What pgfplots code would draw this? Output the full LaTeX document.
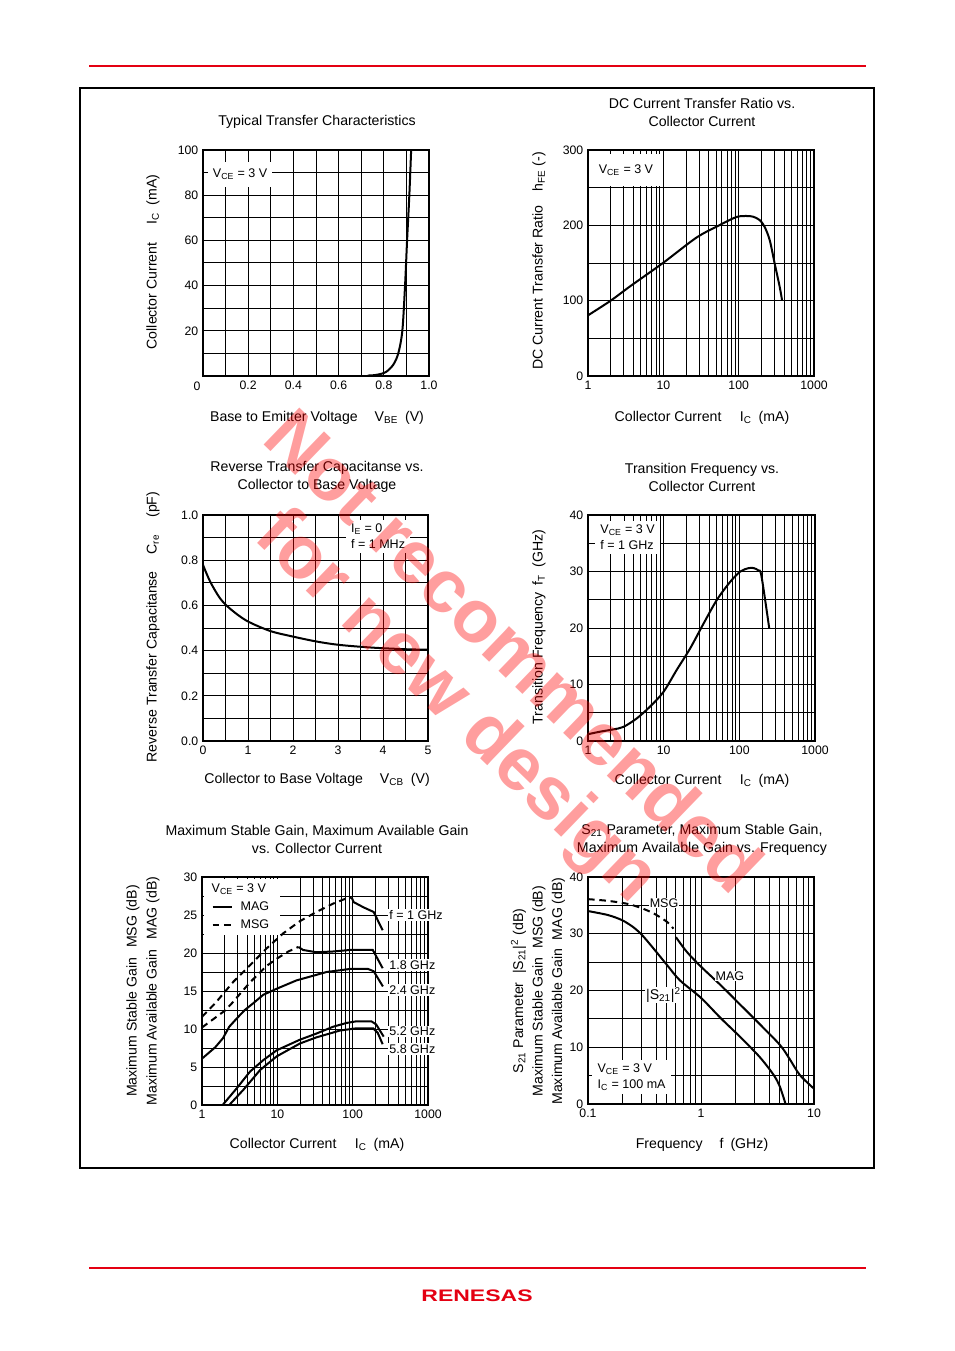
\documentclass[border=0pt]{standalone}
\usepackage{fontspec}
\setmainfont{Liberation Sans}
\usepackage{pgfplots}
\pgfplotsset{compat=1.18}
\definecolor{rred}{RGB}{228,0,18}
\newcommand\lab{\fontsize{10.6}{13.5}\selectfont}
\newcommand\tk{\fontsize{9.2}{11}\selectfont}
\newcommand\an{\fontsize{9.4}{12}\selectfont}
\pgfplotsset{
 myax/.style={scale only axis, anchor=south west, clip=false,
  axis line style={line width=1.1pt},
  grid=both,
  major grid style={black,line width=0.75pt},
  minor grid style={black,line width=0.75pt},
  major tick length=0pt, minor tick length=0pt,
  tick label style={font=\tk},
  every axis plot/.append style={black,line width=1.5pt}},
 every axis/.append style={/pgf/number format/assume math mode=true}
}
\begin{document}
\begin{tikzpicture}[x=0.75pt,y=-0.75pt]
\fill[white] (0,0) rectangle (954,1351);
\path[use as bounding box] (0,0) rectangle (954,1351);
\draw[rred, line width=0.8pt] (89,66) -- (866,66);
\draw[rred, line width=0.8pt] (89,1268) -- (866,1268);
\draw[black, line width=0.8pt] (80,88) rectangle (874,1168);
\node[text=rred, font=\fontsize{12.5}{14}\selectfont\bfseries] at (477,1296) {\scalebox{1.38}[1]{RENESAS}};

% ---------- Plot 1 ----------
\coordinate (p1) at (203,376);
\begin{axis}[myax, at={(p1)}, width=169.5pt, height=169.5pt,
  xmin=0, xmax=1, ymin=0, ymax=100,
  xtick={0.2,0.4,0.6,0.8,1.0}, minor xtick={0.1,0.3,0.5,0.7,0.9},
  ytick={20,40,60,80,100}, minor ytick={10,30,50,70,90},
  xticklabels={0.2,0.4,0.6,0.8,1.0}]
\addplot[smooth] coordinates {(0.729,0.2)(0.76,0.4)(0.79,1)(0.813,2)(0.842,5)(0.864,10)(0.882,20)(0.894,40)(0.903,60)(0.913,80)(0.921,100)};
\node[fill=white, inner sep=0pt, minimum width=48pt, minimum height=19pt, font=\an] at (axis cs:0.164,89.2) {V\textsubscript{CE} = 3 V};
\end{axis}
\node[font=\tk] at (197,386) {0};
\node[font=\lab] at (317,122) {Typical Transfer Characteristics};
\node[font=\lab] at (317,418) {Base to Emitter Voltage\hspace{1.2em}V\textsubscript{BE}\hspace{0.5em}(V)};
\node[font=\lab, rotate=90] at (153,262) {Collector Current\hspace{1.3em}I\textsubscript{C}\hspace{0.5em}(mA)};

% ---------- Plot 2 ----------
\coordinate (p2) at (588,376);
\begin{semilogxaxis}[myax, at={(p2)}, width=169.5pt, height=169.5pt,
  xmin=1, xmax=1000, xtick={1,10,100,1000}, xticklabels={1,10,100,1000},
  minor xtick={2,3,4,5,6,7,8,9,20,30,40,50,60,70,80,90,200,300,400,500,600,700,800,900},
  ymin=0, ymax=300, ytick={0,100,200,300}, minor ytick={50,150,250}]
\addplot[smooth] coordinates {(1,80.5)(2,100)(3.57,118.6)(10,150.4)(27.4,183.6)(56,200.4)(93,211)(126,212.4)(155,211.5)(190,207)(221,198)(258,180.5)(300,149.6)(350,118.6)(376,101)};
\node[fill=white, inner sep=0pt, minimum width=54pt, minimum height=24pt, font=\an] at (axis cs:3.19,273) {V\textsubscript{CE} = 3 V};
\end{semilogxaxis}
\node[font=\lab, align=center] at (702,112) {DC Current Transfer Ratio vs.\\Collector Current};
\node[font=\lab] at (702,418) {Collector Current\hspace{1.3em}I\textsubscript{C}\hspace{0.5em}(mA)};
\node[font=\lab, rotate=90] at (539,261) {DC Current Transfer Ratio\hspace{1em}h\textsubscript{FE} (-)};

% ---------- Plot 3 ----------
\coordinate (p3) at (203,741);
\begin{axis}[myax, at={(p3)}, width=168.75pt, height=169.5pt,
  xmin=0, xmax=5, ymin=0, ymax=1,
  xtick={0,1,2,3,4,5}, minor xtick={0.5,1.5,2.5,3.5,4.5},
  ytick={0,0.2,0.4,0.6,0.8,1.0}, minor ytick={0.1,0.3,0.5,0.7,0.9},
  yticklabels={0.0,0.2,0.4,0.6,0.8,1.0}]
\addplot[smooth] coordinates {(0,0.779)(0.16,0.705)(0.38,0.631)(0.61,0.584)(0.97,0.532)(1.49,0.487)(2.0,0.462)(2.53,0.44)(3.04,0.425)(3.78,0.413)(4.52,0.406)(5.0,0.404)};
\node[fill=white, inner xsep=4pt, inner ysep=3pt, align=left, font=\an] at (axis cs:3.89,0.905) {I\textsubscript{E} = 0\\f = 1 MHz};
\end{axis}
\node[font=\lab, align=center] at (317,477) {Reverse Transfer Capacitanse vs.\\Collector to Base Voltage};
\node[font=\lab] at (317,780) {Collector to Base Voltage\hspace{1.2em}V\textsubscript{CB}\hspace{0.5em}(V)};
\node[font=\lab, rotate=90] at (153,627) {Reverse Transfer Capacitanse\hspace{1.2em}C\textsubscript{re}\hspace{1.2em}(pF)};

% ---------- Plot 4 ----------
\coordinate (p4) at (588,741);
\begin{semilogxaxis}[myax, at={(p4)}, width=170.25pt, height=169.5pt,
  xmin=1, xmax=1000, xtick={1,10,100,1000}, xticklabels={1,10,100,1000},
  minor xtick={2,3,4,5,6,7,8,9,20,30,40,50,60,70,80,90,200,300,400,500,600,700,800,900},
  ymin=0, ymax=40, ytick={0,10,20,30,40}, minor ytick={5,15,25,35}]
\addplot[smooth, tension=0.5] coordinates {(1,1.2)(1.44,1.65)(2.17,2.06)(2.94,2.5)(4.41,4.0)(6.62,6.1)(9.95,8.7)(14.9,12.6)(22.4,16.4)(33.7,20.8)(50.6,25.0)(76,28.2)(103,30.0)(133,30.6)(155,30.6)(178,30.2)(196,29.2)(248,20.0)};
\node[fill=white, inner xsep=4pt, inner ysep=3pt, align=left, font=\an] at (axis cs:3.34,36.0) {V\textsubscript{CE} = 3 V\\f = 1 GHz};
\end{semilogxaxis}
\node[font=\lab, align=center] at (702,477) {Transition Frequency vs.\\Collector Current};
\node[font=\lab] at (702,781) {Collector Current\hspace{1.3em}I\textsubscript{C}\hspace{0.5em}(mA)};
\node[font=\lab, rotate=90] at (539,627) {Transition Frequency\hspace{0.5em}f\textsubscript{T}\hspace{0.5em}(GHz)};

% ---------- Plot 5 ----------
\coordinate (p5) at (202,1105);
\begin{semilogxaxis}[myax, at={(p5)}, width=169.5pt, height=171pt,
  xmin=1, xmax=1000, xtick={1,10,100,1000}, xticklabels={1,10,100,1000},
  minor xtick={2,3,4,5,6,7,8,9,20,30,40,50,60,70,80,90,200,300,400,500,600,700,800,900},
  ymin=0, ymax=30, ytick={0,5,10,15,20,25,30}, minor ytick={2.5,7.5,12.5,17.5,22.5,27.5},
  legend cell align=left,
  legend style={at={(0.006,0.994)}, anchor=north west, draw=none, fill=white, font=\an,
    inner xsep=6pt, inner ysep=2pt, row sep=1.2pt, column sep=4pt},
  legend image code/.code={\draw[#1] (0cm,0cm) -- (0.5cm,0cm);}]
\addlegendimage{empty legend}\addlegendentry{\hspace{-0.62cm}\hspace{-4pt}V\textsubscript{CE} = 3 V}
\addlegendimage{black, line width=1.5pt}\addlegendentry{MAG}
\addlegendimage{black, line width=1.5pt, dash pattern=on 5pt off 3.5pt}\addlegendentry{MSG}
\addplot[forget plot, dash pattern=on 5pt off 3.5pt] coordinates {(1,11.6)(1.5,13.4)(2.6,16.2)(4.34,18.4)(7.2,20.6)(12,22.6)(20,24.2)(33,25.4)(55,26.5)(83,27.2)(97,27.3)};
\addplot[forget plot] coordinates {(97,27.3)(103,26.7)(140,26.0)(190,25.4)(250,23.0)};
\addplot[forget plot, dash pattern=on 5pt off 3.5pt] coordinates {(1,10.2)(2,12.4)(2.5,13.4)(4.3,16.1)(7.2,18.3)(10,19.3)(14,20.2)(19,20.8)};
\addplot[forget plot] coordinates {(19,20.8)(22,20.4)(33,20.1)(55,20.2)(92,20.4)(185,20.4)(250,18.0)};
\addplot[forget plot] coordinates {(1,6.1)(1.5,7.6)(1.9,8.8)(2.3,10.3)(2.9,11.4)(3.7,12.5)(4.8,13.4)(6.5,14.5)(9.8,15.3)(18,16.4)(45,17.5)(92,17.9)(160,17.9)(190,17.6)(252,15.6)};
\addplot[forget plot] coordinates {(1.88,0)(2.89,2.2)(4.34,4.4)(6.5,5.9)(9.8,7.2)(20,8.6)(33,9.4)(55,10.3)(83,10.8)(110,11.0)(178,11.0)(205,10.6)(258,9.0)};
\addplot[forget plot] coordinates {(2.3,0)(3.54,2.0)(5.9,4.6)(9.8,6.4)(20,8.1)(33,8.9)(68,9.8)(113,10.1)(187,10.1)(215,9.5)(250,8.0)};
\node[fill=white, inner xsep=1pt, inner ysep=1pt, anchor=west, font=\an] at (axis cs:292,25.0) {f = 1 GHz};
\node[fill=white, inner xsep=1pt, inner ysep=1pt, anchor=west, font=\an] at (axis cs:292,18.4) {1.8 GHz};
\node[fill=white, inner xsep=1pt, inner ysep=1pt, anchor=west, font=\an] at (axis cs:292,15.1) {2.4 GHz};
\node[fill=white, inner xsep=1pt, inner ysep=1pt, anchor=west, font=\an] at (axis cs:292,9.7) {5.2 GHz};
\node[fill=white, inner xsep=1pt, inner ysep=1pt, anchor=west, font=\an] at (axis cs:292,7.4) {5.8 GHz};
\end{semilogxaxis}
\node[font=\lab, align=center] at (317,839.5) {Maximum Stable Gain, Maximum Available Gain\\vs. Collector Current};
\node[font=\lab] at (317,1145) {Collector Current\hspace{1.3em}I\textsubscript{C}\hspace{0.5em}(mA)};
\node[font=\fontsize{10.6}{15}\selectfont, rotate=90, align=center] at (143,991) {Maximum Stable Gain\hspace{0.7em}MSG (dB)\\Maximum Available Gain\hspace{0.7em}MAG (dB)};

% ---------- Plot 6 ----------
\coordinate (p6) at (588,1104);
\begin{semilogxaxis}[myax, at={(p6)}, width=169.5pt, height=170.25pt,
  xmin=0.1, xmax=10, xtick={0.1,1,10}, xticklabels={0.1,1,10},
  minor xtick={0.2,0.3,0.4,0.5,0.6,0.7,0.8,0.9,2,3,4,5,6,7,8,9},
  ymin=0, ymax=40, ytick={0,10,20,30,40}, minor ytick={5,15,25,35}]
\addplot[smooth, dash pattern=on 5pt off 3.5pt] coordinates {(0.1,36.1)(0.15,35.8)(0.22,35.3)(0.29,34.6)(0.38,33.6)(0.5,32.1)(0.57,30.9)};
\addplot[smooth] coordinates {(0.6,29.4)(0.75,26.8)(1,24.2)(1.5,20.9)(2.2,17.6)(3.3,14.1)(5,10.4)(6.1,7.9)(7.5,5.1)(10,2.7)};
\addplot[smooth] coordinates {(0.1,34.0)(0.15,33.3)(0.2,32.4)(0.25,31.2)(0.3,29.8)(0.38,27.4)(0.5,24.5)(0.65,21.8)(1,18.7)(1.5,15.1)(2.2,11.9)(3.3,8.3)(4.4,5.1)(5.0,3.0)(5.6,0)};
\node[fill=white, inner sep=0.5pt, font=\an] at (axis cs:0.471,35.4) {MSG};
\node[fill=white, inner sep=0.5pt, font=\an] at (axis cs:1.8,22.6) {MAG};
\node[fill=white, inner sep=0.5pt, font=\lab] at (axis cs:0.465,19.2) {|S\textsubscript{21}|\textsuperscript{2}};
\node[fill=white, inner xsep=4pt, inner ysep=3pt, align=left, font=\an] at (axis cs:0.243,4.76) {V\textsubscript{CE} = 3 V\\I\textsubscript{C} = 100 mA};
\end{semilogxaxis}
\node[font=\lab, align=center] at (702,840) {S\textsubscript{21} Parameter, Maximum Stable Gain,\\Maximum Available Gain vs. Frequency};
\node[font=\lab] at (702,1145) {Frequency\hspace{1.2em}f\hspace{0.5em}(GHz)};
\node[font=\fontsize{10.6}{14.6}\selectfont, rotate=90, align=center] at (538,991) {S\textsubscript{21} Parameter\hspace{0.6em}|S\textsubscript{21}|\textsuperscript{2} (dB)\\Maximum Stable Gain\hspace{0.6em}MSG (dB)\\Maximum Available Gain\hspace{0.6em}MAG (dB)};

% ---------- Watermark ----------
\node[rotate=-44, text=red, opacity=0.38, font=\fontsize{56}{60}\selectfont\bfseries] at (515,650) {Not recommended};
\node[rotate=-44, text=red, opacity=0.38, font=\fontsize{56}{60}\selectfont\bfseries] at (455,708) {for new design};
\end{tikzpicture}
\end{document}
